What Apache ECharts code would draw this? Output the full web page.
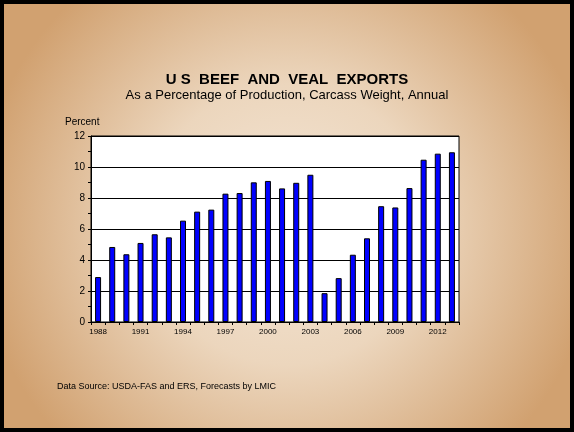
<!DOCTYPE html>
<html><head><meta charset="utf-8">
<script src="https://cdn.jsdelivr.net/npm/echarts@6/dist/echarts.min.js"></script>
<style>html,body{margin:0;padding:0;}#c{width:574px;height:432px;}</style>
</head><body><div id="c"></div>
<script>
const years = ['1988','1989','1990','1991','1992','1993','1994','1995','1996','1997','1998','1999','2000','2001','2002','2003','2004','2005','2006','2007','2008','2009','2010','2011','2012','2013'];
const exportsPct = [2.9,4.84,4.37,5.1,5.66,5.46,6.54,7.12,7.25,8.28,8.32,9.01,9.1,8.62,8.98,9.5,1.86,2.83,4.34,5.4,7.47,7.39,8.64,10.47,10.86,10.95];
const titleText = 'U S  BEEF  AND  VEAL  EXPORTS';
const subtitleText = 'As a Percentage of Production, Carcass Weight, Annual';
const yAxisName = 'Percent';
const sourceText = 'Data Source: USDA-FAS and ERS, Forecasts by LMIC';

const chart = echarts.init(document.getElementById('c'));
chart.setOption({
  animation: false,
  backgroundColor: {type:'radial', x:0.5, y:0.52, r:0.72, colorStops:[
    {offset:0, color:'#f4e6d6'},{offset:0.45, color:'#ecd6bd'},{offset:1, color:'#d1a170'}]},
  textStyle: {fontFamily: 'Liberation Sans, Arial, sans-serif'},
  graphic: [
    {type:'rect', shape:{x:2,y:2,width:570,height:428}, style:{fill:'none', stroke:'#000', lineWidth:4}, z:100},
    {type:'text', left:'center', top:72, style:{text:titleText, fontSize:15, fontWeight:'bold', fill:'#000', fontFamily:'Liberation Sans, Arial, sans-serif'}},
    {type:'text', left:'center', top:89, style:{text:subtitleText, fontSize:13, fill:'#000', fontFamily:'Liberation Sans, Arial, sans-serif'}},
    {type:'text', left:65, top:117, style:{text:yAxisName, fontSize:10, fill:'#000', fontFamily:'Liberation Sans, Arial, sans-serif'}},
    {type:'text', left:57, top:382, style:{text:sourceText, fontSize:9, fill:'#000', fontFamily:'Liberation Sans, Arial, sans-serif'}}
  ],
  grid: {left:91, right:115, top:136, bottom:110, show:true, backgroundColor:'#fff', borderColor:'#000', borderWidth:1},
  xAxis: {type:'category', data:years, boundaryGap:true,
    axisLine:{lineStyle:{color:'#000'}},
    axisTick:{show:true, interval:0, alignWithLabel:false, length:3, lineStyle:{color:'#000'}},
    axisLabel:{interval:2, fontSize:8, color:'#000', margin:6}},
  yAxis: {type:'value', min:0, max:12, interval:2,
    axisLine:{show:true, lineStyle:{color:'#000'}},
    axisTick:{show:true, length:3, lineStyle:{color:'#000'}},
    minorTick:{show:true, splitNumber:2, length:3, lineStyle:{color:'#000'}},
    splitLine:{lineStyle:{color:'#000', width:1}},
    axisLabel:{fontSize:10, color:'#000', margin:6}},
  series: [{type:'bar', data:exportsPct, barWidth:6,
    itemStyle:{color:'#0000ff', borderColor:'#000', borderWidth:1}}]
});
</script></body></html>
